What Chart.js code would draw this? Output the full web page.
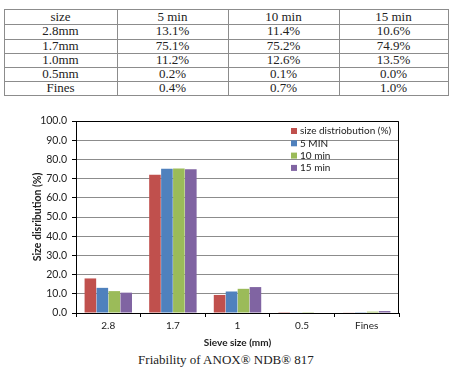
<!DOCTYPE html>
<html>
<head>
<meta charset="utf-8">
<script src="https://cdn.jsdelivr.net/npm/chart.js@4.4.0/dist/chart.umd.min.js"></script>
<style>
  html, body { margin: 0; padding: 0; background: #fff; width: 452px; height: 368px; overflow: hidden; position: relative; }
  .cell { position: absolute; box-sizing: border-box; display: flex; align-items: center; justify-content: center;
          font-family: "Liberation Serif", "DejaVu Serif", serif; font-size: 13px; color: #222; white-space: nowrap; }
  .hl { position: absolute; height: 1px; background: #8c8c8c; }
  .vl { position: absolute; width: 1px; background: #8c8c8c; }
  #wrap { position: absolute; left: 0; top: 100px; width: 452px; height: 252px; }
  #cap { position: absolute; left: 0; width: 452px; top: 352px; text-align: center;
         font-family: "Liberation Serif", "DejaVu Serif", serif; font-size: 13px; color: #222; line-height: 15px; }
</style>
</head>
<body>
<div id="tbl"></div>
<div id="wrap"><canvas id="c" width="452" height="252"></canvas></div>
<div id="cap">Friability of ANOX® NDB® 817</div>
<script>
// ---- table data ----
const tableHeader = ["size", "5 min", "10 min", "15 min"];
const tableSizes = ["2.8mm", "1.7mm", "1.0mm", "0.5mm", "Fines"];
const table5 = ["13.1%", "75.1%", "11.2%", "0.2%", "0.4%"];
const table10 = ["11.4%", "75.2%", "12.6%", "0.1%", "0.7%"];
const table15 = ["10.6%", "74.9%", "13.5%", "0.0%", "1.0%"];

// ---- chart data ----
const categories = ["2.8", "1.7", "1", "0.5", "Fines"];
const seriesNames = ["size distriobution (%)", "5 MIN", "10 min", "15 min"];
const sizeDist = [18.0, 72.0, 9.4, 0.1, 0.2];
const min5 = [13.1, 75.1, 11.2, 0.2, 0.4];
const min10 = [11.4, 75.2, 12.6, 0.1, 0.7];
const min15 = [10.6, 74.9, 13.5, 0.0, 1.0];
const colors = ["#C0504D", "#4F81BD", "#9BBB59", "#8064A2"];

// build table (absolute cells)
const colX = [4, 117, 228, 339, 448];
const rowY = [9, 24, 38.5, 53, 67, 81, 95];
const tbl = document.getElementById('tbl');
const rows = [tableHeader].concat(tableSizes.map((s, i) => [s, table5[i], table10[i], table15[i]]));
rows.forEach((r, ri) => {
  r.forEach((txt, ci) => {
    const d = document.createElement('div');
    d.className = 'cell';
    d.style.left = colX[ci] + 'px';
    d.style.width = (colX[ci + 1] - colX[ci]) + 'px';
    d.style.top = rowY[ri] + 'px';
    d.style.height = (rowY[ri + 1] - rowY[ri]) + 'px';
    d.textContent = txt;
    tbl.appendChild(d);
  });
});
rowY.forEach(y => {
  const l = document.createElement('div');
  l.className = 'hl';
  l.style.left = colX[0] + 'px';
  l.style.width = (colX[colX.length - 1] - colX[0] + 1) + 'px';
  l.style.top = Math.round(y) + 'px';
  tbl.appendChild(l);
});
colX.forEach(x => {
  const l = document.createElement('div');
  l.className = 'vl';
  l.style.left = x + 'px';
  l.style.top = rowY[0] + 'px';
  l.style.height = (rowY[rowY.length - 1] - rowY[0]) + 'px';
  tbl.appendChild(l);
});

const sans = "Lato, 'Open Sans', sans-serif";

const frameAndLegend = {
  id: 'frameAndLegend',
  afterDatasetsDraw(chart) {
    const ctx = chart.ctx;
    const a = chart.chartArea;
    ctx.save();
    ctx.strokeStyle = '#000';
    ctx.lineWidth = 1;
    ctx.beginPath();
    ctx.moveTo(a.left, a.top + 0.5);
    ctx.lineTo(a.right - 0.5, a.top + 0.5);
    ctx.lineTo(a.right - 0.5, a.bottom);
    ctx.stroke();
    // legend
    ctx.font = "10px " + sans;
    ctx.textBaseline = 'middle';
    ctx.textAlign = 'left';
    chart.data.datasets.forEach((ds, i) => {
      const y = 31 + i * 12.3;
      ctx.fillStyle = ds.backgroundColor;
      ctx.fillRect(291, y - 3, 6, 6);
      ctx.fillStyle = '#222';
      ctx.fillText(ds.label, 300, y);
    });
    ctx.restore();
  }
};

new Chart(document.getElementById('c'), {
  type: 'bar',
  data: {
    labels: categories,
    datasets: [sizeDist, min5, min10, min15].map((d, i) => ({
      label: seriesNames[i],
      data: d,
      backgroundColor: colors[i],
      borderWidth: 0,
      barPercentage: 0.97,
      categoryPercentage: 0.74
    }))
  },
  options: {
    responsive: false,
    animation: false,
    devicePixelRatio: 1,
    layout: { padding: { top: 21, right: 53, left: 0, bottom: 0 } },
    plugins: { legend: { display: false }, tooltip: { enabled: false } },
    scales: {
      x: {
        grid: { drawOnChartArea: false, drawTicks: true, tickLength: 4, tickColor: '#000', offset: true },
        border: { color: '#000', width: 1 },
        ticks: { color: '#222', font: { family: sans, size: 10 }, padding: 3 },
        title: { display: true, text: 'Sieve size (mm)', color: '#222',
                 font: { family: sans, size: 10, weight: 'bold' }, padding: { top: 0, bottom: 3 } },
        afterFit(s) { s.height = 39; }
      },
      y: {
        min: 0, max: 100,
        grid: { color: '#8c8c8c', tickLength: 4, tickColor: '#000' },
        border: { color: '#000', width: 1 },
        ticks: { stepSize: 10, color: '#222', font: { family: sans, size: 10.5 }, padding: 5,
                 callback: v => Number(v).toFixed(1) },
        title: { display: true, text: 'Size disribution (%)', color: '#222',
                 font: { family: sans, size: 10.5, weight: 'bold' }, padding: { top: 31, bottom: 0 } },
        afterFit(s) { s.width = 76; }
      }
    }
  },
  plugins: [frameAndLegend]
});
</script>
</body>
</html>
